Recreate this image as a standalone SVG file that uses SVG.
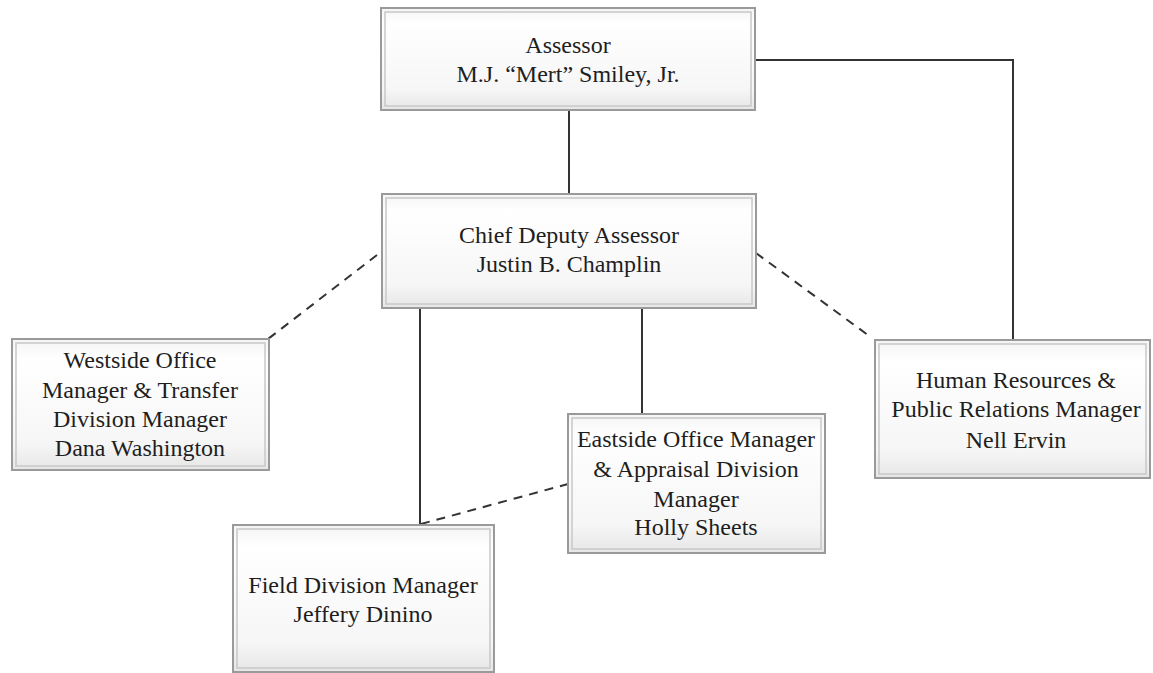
<svg xmlns="http://www.w3.org/2000/svg" width="1153" height="673" viewBox="0 0 1153 673">
<defs>
<linearGradient id="g" x1="0" y1="0" x2="0" y2="1">
<stop offset="0" stop-color="#f4f4f4"/>
<stop offset="0.15" stop-color="#ffffff"/>
<stop offset="0.8" stop-color="#f6f6f6"/>
<stop offset="1" stop-color="#e6e6e6"/>
</linearGradient>
<style>
.outer{fill:url(#g);stroke:#9a9a9a;stroke-width:2}
.inner{fill:none;stroke:#c8c8c8;stroke-width:1.5}
.t{font-family:"Liberation Serif","Times New Roman",serif;font-size:24px;fill:#1e1e1e;text-anchor:middle}
.ln{stroke:#333;stroke-width:2;fill:none}
.dash{stroke:#333;stroke-width:2;fill:none;stroke-dasharray:9 7}
</style>
</defs>
<rect width="1153" height="673" fill="#ffffff"/>
<g id="connectors">
<line class="ln" x1="569" y1="110" x2="569" y2="194"/>
<polyline class="ln" points="755,60 1013,60 1013,340"/>
<line class="ln" x1="420" y1="308" x2="420" y2="525"/>
<line class="ln" x1="642" y1="308" x2="642" y2="414"/>
<line class="dash" x1="377" y1="255" x2="268" y2="339"/>
<line class="dash" x1="756" y1="253" x2="872" y2="338"/>
<line class="dash" x1="421" y1="524" x2="568" y2="484"/>
</g>
<g id="assessor">
<rect class="outer" x="381" y="8" width="374" height="102"/>
<rect class="inner" x="385" y="12" width="366" height="94"/>
<text class="t" x="568" y="53">Assessor</text>
<text class="t" x="568" y="82">M.J. “Mert” Smiley, Jr.</text>
</g>
<g id="chief">
<rect class="outer" x="382" y="194" width="374" height="114"/>
<rect class="inner" x="386" y="198" width="366" height="106"/>
<text class="t" x="569" y="243">Chief Deputy Assessor</text>
<text class="t" x="569" y="272">Justin B. Champlin</text>
</g>
<g id="westside">
<rect class="outer" x="12" y="339" width="257" height="131"/>
<rect class="inner" x="16" y="343" width="249" height="123"/>
<text class="t" x="140" y="368">Westside Office</text>
<text class="t" x="140" y="398">Manager &amp; Transfer</text>
<text class="t" x="140" y="427">Division Manager</text>
<text class="t" x="140" y="456">Dana Washington</text>
</g>
<g id="eastside">
<rect class="outer" x="568" y="414" width="257" height="139"/>
<rect class="inner" x="572" y="418" width="249" height="131"/>
<text class="t" x="696" y="447">Eastside Office Manager</text>
<text class="t" x="696" y="477">&amp; Appraisal Division</text>
<text class="t" x="696" y="507">Manager</text>
<text class="t" x="696" y="535">Holly Sheets</text>
</g>
<g id="field">
<rect class="outer" x="233" y="525" width="261" height="147"/>
<rect class="inner" x="237" y="529" width="253" height="139"/>
<text class="t" x="363" y="593">Field Division Manager</text>
<text class="t" x="363" y="622">Jeffery Dinino</text>
</g>
<g id="hr">
<rect class="outer" x="875" y="340" width="275" height="138"/>
<rect class="inner" x="879" y="344" width="267" height="130"/>
<text class="t" x="1016" y="388">Human Resources &amp;</text>
<text class="t" x="1016" y="417">Public Relations Manager</text>
<text class="t" x="1016" y="448">Nell Ervin</text>
</g>
</svg>
